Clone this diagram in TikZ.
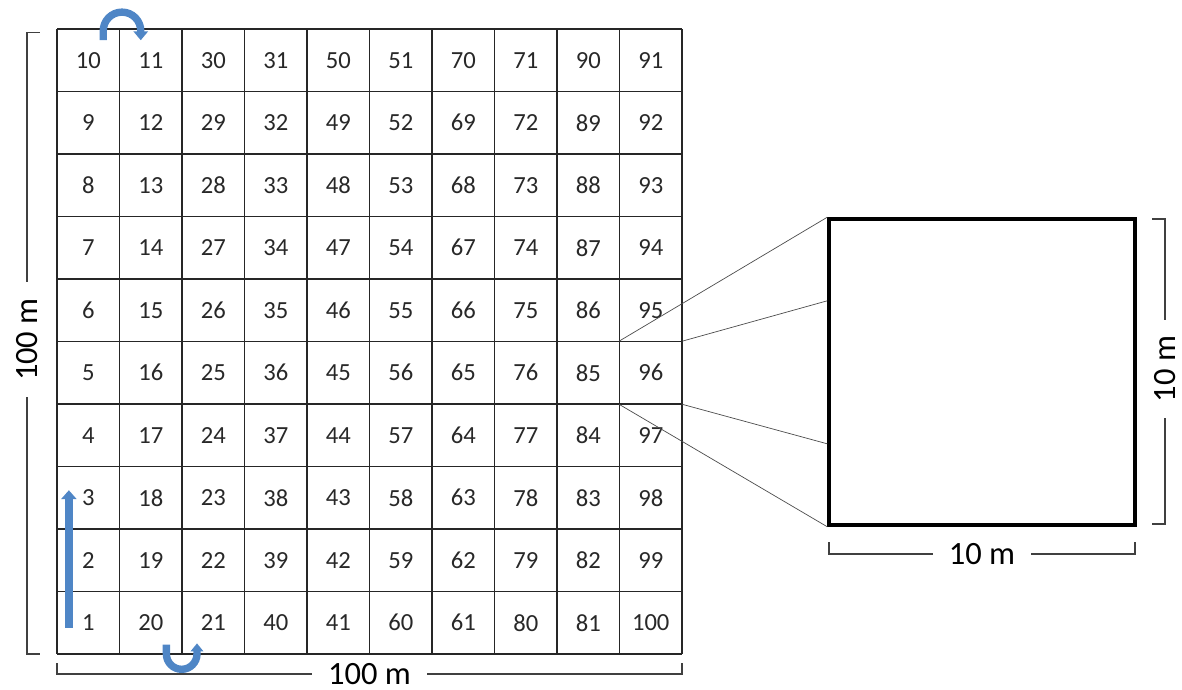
\documentclass[tikz,border=0pt]{standalone}
\usepackage{fontspec}
\setmainfont{Carlito}
\usetikzlibrary{arrows.meta,calc}
\definecolor{walkblue}{RGB}{79,134,198}
\definecolor{numgray}{RGB}{40,40,40}

\begin{document}
\begin{tikzpicture}[x=1.25cm,y=1.25cm,
    cell/.style={minimum size=1.25cm,inner sep=0pt,
      text=numgray,font=\fontsize{14}{16}\selectfont},
    dimline/.style={draw=black!75,line width=0.6pt},
    dimlabel/.style={inner xsep=9pt,inner ysep=1pt,font=\fontsize{18.5}{22}\selectfont},
    walk/.style={draw=walkblue,line width=4.2pt},
    zoomline/.style={draw=black!70,line width=0.4pt}]

\useasboundingbox (-0.912,-0.576) rectangle (18.0,10.464);

% plot grid, numbered up one column and down the next
\draw[black!85,line width=0.9pt,step=1.25cm] (0,0) grid (10,10);
\foreach \c in {0,...,9}{
  \foreach \r in {0,...,9}{
    \pgfmathtruncatemacro{\n}{mod(\c,2)==1 ? 10*\c+10-\r : 10*\c+\r+1}
    \node[cell] (c\c-\r) at (\c+0.5,\r+0.5) {\n};
  }
}

% walking direction
\draw[walk,-{Triangle[width=8.5pt,length=5pt]}] (0.19,0.42) -- (0.19,2.62);
\draw[walk,-{Triangle[width=8pt,length=5pt]}] (0.74,9.82) -- (0.74,9.97)
  arc[start angle=180,end angle=0,radius=0.3] -- (1.34,9.82);
\draw[walk,-{Triangle[width=7pt,length=4.5pt]}] (1.75,0.15) -- (1.75,0)
  arc[start angle=180,end angle=360,radius=0.245] -- (2.24,0.17);

% enlarged plot
\node[draw,line width=2pt,minimum size=6.12cm,inner sep=0pt] (sq) at (14.8,4.512) {};
\coordinate (sq-a) at ($(sq.north west)!0.27!(sq.south west)$);
\coordinate (sq-b) at ($(sq.north west)!0.732!(sq.south west)$);

\draw[zoomline] (c9-4.north west) -- (sq.north west);
\draw[zoomline] (c9-4.north east) -- (sq-a);
\draw[zoomline] (c9-4.south east) -- (sq-b);
\draw[zoomline] (c9-4.south west) -- (sq.south west);

% dimensions
\node[dimlabel,rotate=90] (hgt) at (-0.48,5.03) {100 m};
\draw[dimline] (-0.272,9.95) -| (hgt.east);
\draw[dimline] (hgt.west) |- (-0.272,0);

\node[dimlabel] (wid) at (5.0,-0.32) {100 m};
\draw[dimline] (0,-0.15) |- (wid.west);
\draw[dimline] (wid.east) -| (10,-0.15);

\node[dimlabel,rotate=90] (sqh) at (17.728,4.56) {10 m};
\draw[dimline] (17.52,6.96) -| (sqh.east);
\draw[dimline] (sqh.west) |- (17.52,2.08);

\node[dimlabel] (sqw) at (14.8,1.6) {10 m};
\draw[dimline] (12.352,1.79) |- (sqw.west);
\draw[dimline] (sqw.east) -| (17.248,1.79);
\end{tikzpicture}
\end{document}
